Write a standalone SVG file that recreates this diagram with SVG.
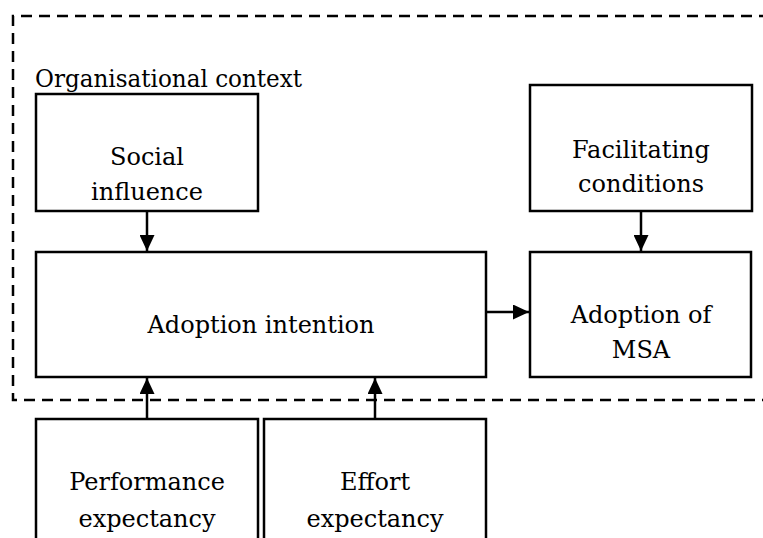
<svg xmlns="http://www.w3.org/2000/svg" width="763" height="538" viewBox="0 0 763 538">
<style>
text{font-family:'DejaVu Serif','Liberation Serif',serif;font-size:24px;fill:#000}
.t{text-anchor:middle}
.box{fill:#fff;stroke:#000;stroke-width:2.5}
.c{stroke:#000;stroke-width:2.5;fill:none;marker-end:url(#ah)}
.dash{fill:none;stroke:#000;stroke-width:2.5;stroke-dasharray:11,7}
</style>
<defs>
<marker id="ah" viewBox="0 0 16 15" refX="16" refY="7.5" markerWidth="16" markerHeight="15" markerUnits="userSpaceOnUse" orient="auto">
<path d="M0,0 L16,7.5 L0,15 Z" fill="#000"/>
</marker>
</defs>
<g id="context">
<path class="dash" d="M770,16 H13 V400 H770"/>
<text x="35" y="87" textLength="267" lengthAdjust="spacingAndGlyphs">Organisational context</text>
</g>
<g id="social">
<rect class="box" x="36" y="94" width="222" height="117"/>
<text class="t" x="147" y="165">Social</text>
<text class="t" x="147" y="200">influence</text>
</g>
<g id="facilitating">
<rect class="box" x="530" y="85" width="222" height="126"/>
<text class="t" x="641" y="158">Facilitating</text>
<text class="t" x="641" y="192">conditions</text>
</g>
<g id="intention">
<rect class="box" x="36" y="252" width="450" height="125"/>
<text class="t" x="261" y="333">Adoption intention</text>
</g>
<g id="adoption">
<rect class="box" x="530" y="252" width="221" height="125"/>
<text class="t" x="641" y="323">Adoption of</text>
<text class="t" x="641" y="358">MSA</text>
</g>
<g id="performance">
<rect class="box" x="36" y="419" width="222" height="130"/>
<text class="t" x="147" y="490">Performance</text>
<text class="t" x="147" y="527">expectancy</text>
</g>
<g id="effort">
<rect class="box" x="264" y="419" width="222" height="130"/>
<text class="t" x="375" y="490">Effort</text>
<text class="t" x="375" y="527">expectancy</text>
</g>
<g id="connectors">
<line class="c" x1="147" y1="211" x2="147" y2="251"/>
<line class="c" x1="641" y1="211" x2="641" y2="251"/>
<line class="c" x1="486" y1="312" x2="529" y2="312"/>
<line class="c" x1="147" y1="419" x2="147" y2="378"/>
<line class="c" x1="375" y1="419" x2="375" y2="378"/>
</g>
</svg>
